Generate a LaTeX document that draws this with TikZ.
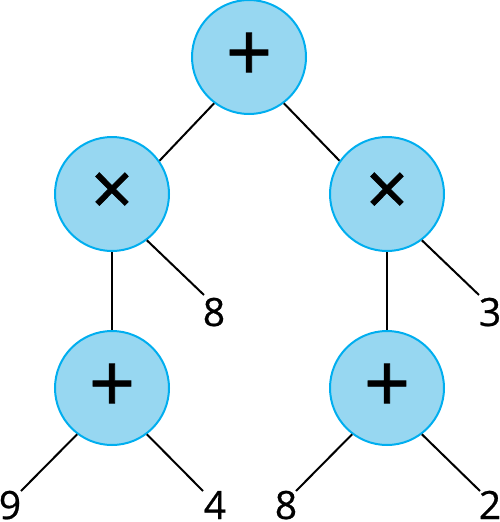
\documentclass[tikz,border=0pt]{standalone}
\usepackage{fontspec}
\setmainfont{Open Sans}
\newfontfamily\opfont[FakeBold=1.0]{Open Sans}
\newfontfamily\digitfont[FakeBold=0.6]{Open Sans}
\definecolor{nodefill}{RGB}{151,215,241}
\definecolor{nodeline}{RGB}{0,174,239}
\begin{document}
\begin{tikzpicture}[x=1pt,y=-1pt,
  opnode/.style={circle,draw=nodeline,fill=nodefill,line width=2pt,minimum size=114pt,inner sep=0pt,font=\opfont\fontsize{81}{81}\selectfont},
  timesnode/.style={opnode,font=\opfont\fontsize{74}{74}\selectfont},
  leaf/.style={inner sep=0pt,anchor=base,font=\digitfont\fontsize{39}{39}\selectfont},
  edge/.style={line width=2pt,black}]
\useasboundingbox (0,0) rectangle (500,522);
% operator nodes
\node[opnode] (top) at (249,57) {+};
\node[timesnode] (lx) at (112,194) {×};
\node[timesnode] (rx) at (387,194) {×};
\node[opnode] (lp) at (112,388) {+};
\node[opnode] (rp) at (387,388) {+};
% leaves
\node[leaf] (l8) at (214,326) {8};
\node[leaf] (l3) at (490,326) {3};
\node[leaf] (l9) at (10,519) {9};
\node[leaf] (l4) at (215,519) {4};
\node[leaf] (l8b) at (286,519) {8};
\node[leaf] (l2) at (490,519) {2};
% free ends
\coordinate (e8) at (204,295);
\coordinate (e3) at (479,295);
\coordinate (e9) at (21,491);
\coordinate (e4) at (203,491);
\coordinate (e8b) at (296,491);
\coordinate (e2) at (480,491);
% connectors
\draw[edge] (top.-127) -- (lx.35);
\draw[edge] (top.-53) -- (rx.145);
\draw[edge] (lx.-53) -- (e8);
\draw[edge] (rx.-53) -- (e3);
\draw[edge] (lx) -- (lp);
\draw[edge] (rx) -- (rp);
\draw[edge] (lp.-127) -- (e9);
\draw[edge] (lp.-53) -- (e4);
\draw[edge] (rp.-127) -- (e8b);
\draw[edge] (rp.-53) -- (e2);
\end{tikzpicture}
\end{document}
